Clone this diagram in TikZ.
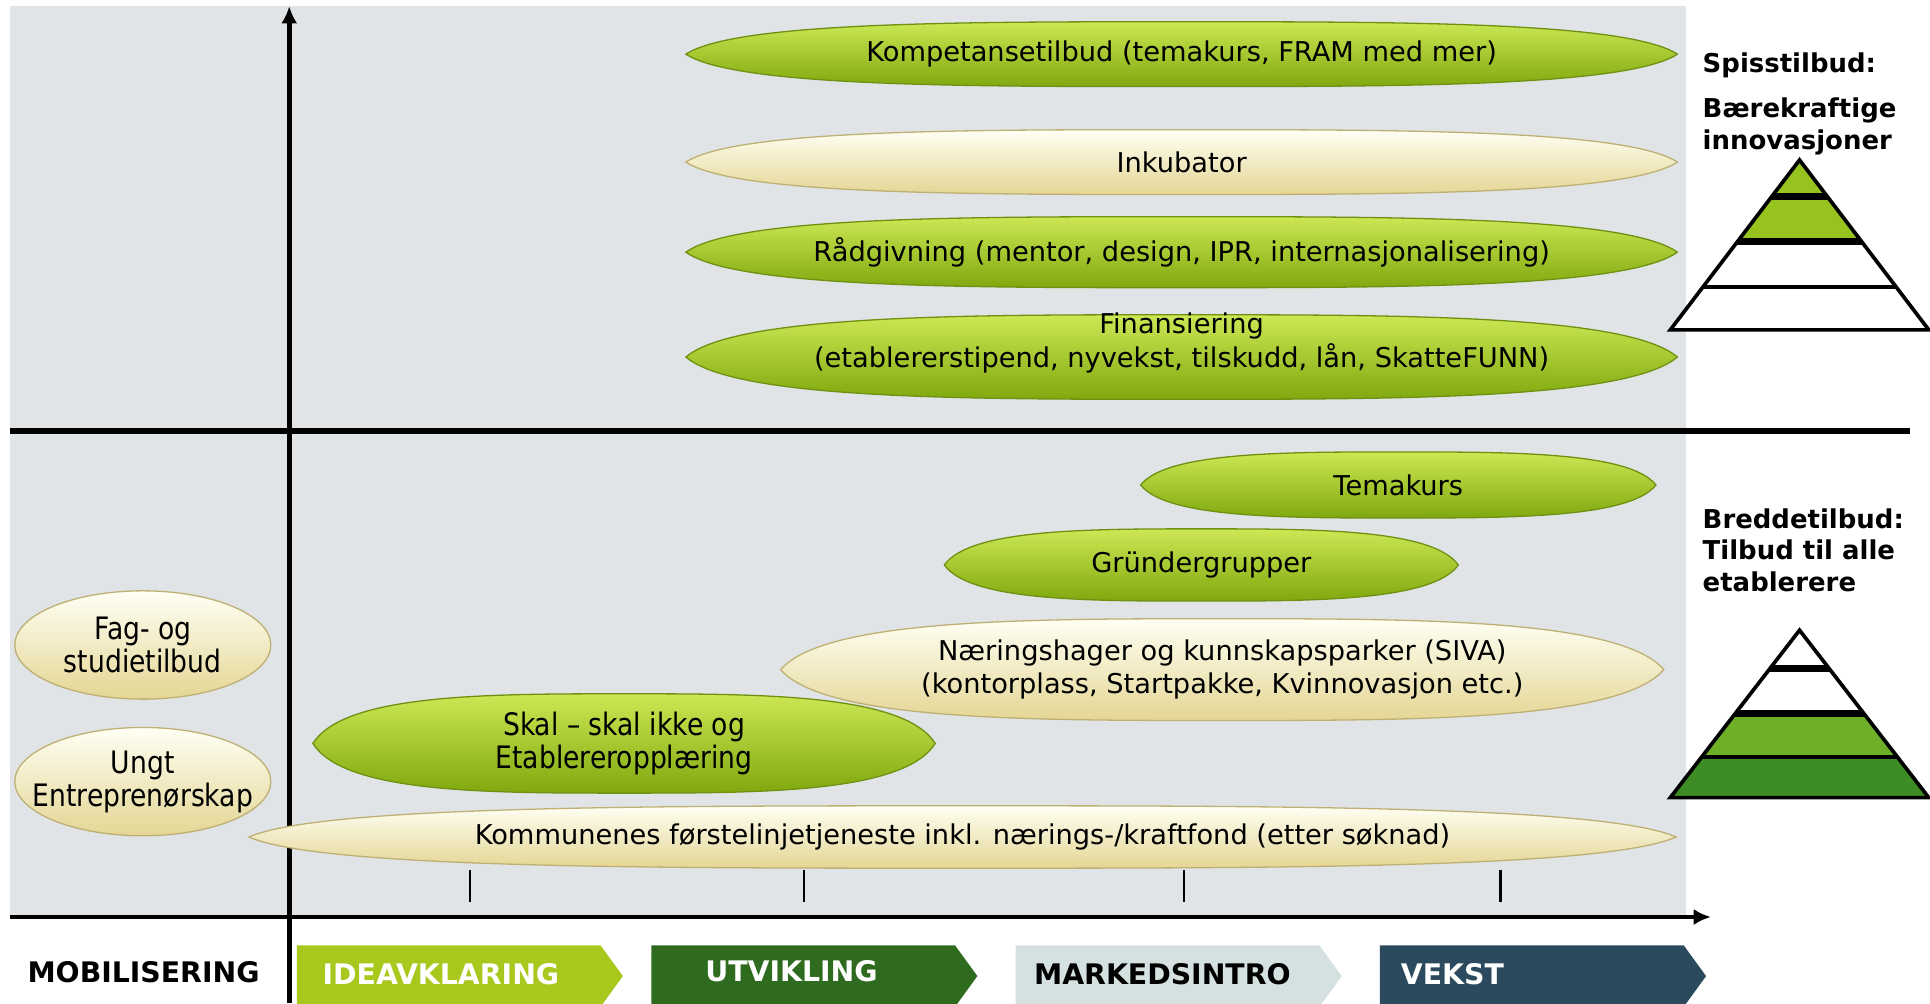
\documentclass[tikz,border=0pt]{standalone}
\usepackage{fontspec}
\setmainfont{DejaVu Sans}
\newfontfamily\condfont{DejaVu Sans}[FakeStretch=0.86]
\usetikzlibrary{positioning,shapes.geometric,shapes.symbols,arrows.meta,calc,backgrounds}

\definecolor{bggray}{RGB}{225,228,230}
\definecolor{geltop}{RGB}{204,232,84}
\definecolor{gelmid}{RGB}{170,208,32}
\definecolor{gelbot}{RGB}{128,168,14}
\definecolor{gelrim}{RGB}{110,145,18}
\definecolor{creamtop}{RGB}{255,255,244}
\definecolor{creammid}{RGB}{253,249,208}
\definecolor{creambot}{RGB}{228,214,148}
\definecolor{creamrim}{RGB}{190,176,116}
\definecolor{pyrlime}{RGB}{150,195,30}
\definecolor{pyrmid}{RGB}{110,175,40}
\definecolor{pyrdark}{RGB}{62,140,36}
\definecolor{ideacol}{RGB}{168,200,30}
\definecolor{utvcol}{RGB}{46,107,31}
\definecolor{markcol}{RGB}{213,224,224}
\definecolor{vekstcol}{RGB}{44,74,94}

\begin{document}
\begin{tikzpicture}[x=0.02cm,y=-0.02cm]
    \tikzstyle{axis} = [line width=2.3pt,->,>={Latex[length=8pt,width=7.5pt]}]
       \tikzset{blob/.style = {rectangle, text centered, align=center, inner xsep=0pt, inner ysep=-0.2cm, font=\fontsize{12.6}{15.4}\selectfont}, }
       \tikzset{narrow/.style = {font=\condfont\fontsize{14.3}{15.3}\selectfont} }
       \tikzset{gel/.style = {draw=gelrim, line width=0.6pt, top color=geltop, middle color=gelmid, bottom color=gelbot}, }
       \tikzset{cream/.style = {draw=creamrim, line width=0.6pt, top color=creamtop, middle color=creammid, bottom color=creambot}, }
       \tikzset{bubble/.style = {ellipse, cream, narrow, align=center, inner xsep=-0.6cm, inner ysep=-0.2cm, minimum width=4.16cm, minimum height=1.76cm} }
       \tikzset{phase/.style = {signal, signal to=east, signal pointer angle=108, minimum width=5.3cm, minimum height=1cm, inner sep=0pt} }
       \tikzset{phasetxt/.style = {font=\bfseries\fontsize{13.1}{16}\selectfont, inner sep=0pt} }
       \tikzset{sidetxt/.style = {font=\bfseries\fontsize{12}{14.7}\selectfont, align=left, inner sep=0pt, anchor=west} }

       \useasboundingbox (0,0) rectangle (1568,815);
       \begin{scope}[on background layer]
         \fill[bggray] (8,5) rectangle (1370,745);
         \draw[line width=2.8pt] (8,350) -- (1552,350);
         \foreach \x in {382,653,962,1219} \draw[line width=1.1pt] (\x,707) -- (\x,733);
         \coordinate (ybot) at (235,815);
         \coordinate (ytop) at (235,5);
         \coordinate (xleft) at (8,745);
         \coordinate (xright) at (1390,745);
         \draw[axis] (ybot) -- (ytop);
         \draw[axis] (xleft) -- (xright);
       \end{scope}

       % spisstilbud
       \node[blob, minimum width=16.1cm, minimum height=1.04cm] (komp) at (960,44) {Kompetansetilbud (temakurs, FRAM med mer)};
       \node[blob, minimum width=16.1cm, minimum height=1.04cm, below=0.7cm of komp] (inkub) {Inkubator};
       \node[blob, minimum width=16.1cm, minimum height=1.14cm, below=0.36cm of inkub] (radg) {Rådgivning (mentor, design, IPR, internasjonalisering)};
       \node[blob, minimum width=16.1cm, minimum height=1.36cm, below=0.44cm of radg, text depth=0.55cm] (finans) {Finansiering\\(etablererstipend, nyvekst, tilskudd, lån, SkatteFUNN)};

       % breddetilbud
       \node[blob, minimum width=8.36cm, minimum height=1.06cm] (tema) at (1136,394) {Temakurs};
       \node[blob, minimum width=8.34cm, minimum height=1.16cm] (grunder) at (976,459) {Gründergrupper};
       \node[blob, minimum width=14.34cm, minimum height=1.64cm] (naering) at (993,544) {Næringshager og kunnskapsparker (SIVA)\\(kontorplass, Startpakke, Kvinnovasjon etc.)};
       \node[blob, narrow, minimum width=10.1cm, minimum height=1.6cm] (skal) at (507,604) {Skal – skal ikke og\\Etablereropplæring};
       \node[blob, minimum width=23.18cm, minimum height=1cm] (kommune) at (782,680) {Kommunenes førstelinjetjeneste inkl. nærings-/kraftfond (etter søknad)};
       \node[bubble] (fag) at (116,524) {Fag- og\\studietilbud};
       \node[bubble] (ungt) at (116,635) {Ungt\\Entreprenørskap};

       \begin{scope}[on background layer]
         \foreach \n/\s in {komp/gel,inkub/cream,radg/gel,finans/gel,tema/gel,grunder/gel,naering/cream,skal/gel,kommune/cream}
           \path[\s] (\n.west) .. controls ($(\n.north west)!0.05!(\n.north east)$) and ($(\n.north west)!0.28!(\n.north east)$) .. (\n.north)
             .. controls ($(\n.north west)!0.72!(\n.north east)$) and ($(\n.north west)!0.95!(\n.north east)$) .. (\n.east)
             .. controls ($(\n.south west)!0.95!(\n.south east)$) and ($(\n.south west)!0.72!(\n.south east)$) .. (\n.south)
             .. controls ($(\n.south west)!0.28!(\n.south east)$) and ($(\n.south west)!0.05!(\n.south east)$) .. (\n.west) -- cycle;
       \end{scope}

       % pyramids
       \begin{scope}
         \clip (1462,130) -- (1567,268) -- (1357,268) -- cycle;
         \fill[white] (1350,125) rectangle (1575,272);
         \fill[pyrlime] (1350,125) rectangle (1575,196);
         \foreach \y/\w in {160/3.2pt,196/3.2pt,233/1.8pt} \draw[line width=\w] (1350,\y) -- (1575,\y);
       \end{scope}
       \draw[line width=1.7pt] (1462,130) -- (1567,268) -- (1357,268) -- cycle;
       \begin{scope}
         \clip (1462,512) -- (1567,648) -- (1357,648) -- cycle;
         \fill[white] (1350,505) rectangle (1575,652);
         \fill[pyrmid] (1350,580) rectangle (1575,615);
         \fill[pyrdark] (1350,615) rectangle (1575,652);
         \foreach \y/\w in {543/3.2pt,580/3.2pt,615/1.8pt} \draw[line width=\w] (1350,\y) -- (1575,\y);
       \end{scope}
       \draw[line width=1.7pt] (1462,512) -- (1567,648) -- (1357,648) -- cycle;

       \node[sidetxt] (spiss) at (1383,53) {Spisstilbud:};
       \node[sidetxt] (baere) at (1383,103) {Bærekraftige\\innovasjoner};
       \node[sidetxt] (bredde) at (1383,447) {Breddetilbud:\\Tilbud til alle\\etablerere};

       % faser
       \node[phasetxt, anchor=west] (mob) at (22,790) {MOBILISERING};
       \node[phase, fill=ideacol] (idea) at (364.5,793) {};
       \node[phase, fill=utvcol] (utv) at (652.5,793) {};
       \node[phase, fill=markcol] (mark) at (948.5,793) {};
       \node[phase, fill=vekstcol] (vekst) at (1244.5,793) {};
       \node[phasetxt, text=white, right=0.42cm of idea.west, yshift=0.03cm] (ideatxt) {IDEAVKLARING};
       \node[phasetxt, text=white, right=0.88cm of utv.west, yshift=0.08cm] (utvtxt) {UTVIKLING};
       \node[phasetxt, right=0.3cm of mark.west, yshift=0.03cm] (marktxt) {MARKEDSINTRO};
       \node[phasetxt, text=white, right=0.34cm of vekst.west, yshift=0.03cm] (vekstxt) {VEKST};

\end{tikzpicture}
\end{document}
